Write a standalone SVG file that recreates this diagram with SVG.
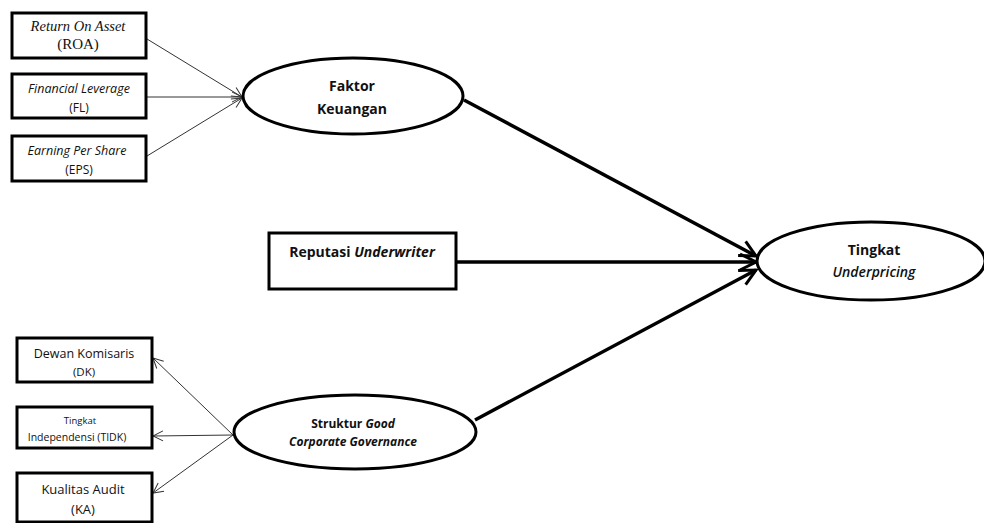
<svg xmlns="http://www.w3.org/2000/svg" width="984" height="523" viewBox="0 0 984 523">
<style>
.box{fill:#fff;stroke:#000;stroke-width:3}
.ell{fill:#fff;stroke:#000;stroke-width:3}
.thin{stroke:#333;stroke-width:1;fill:none}
.thick{stroke:#000;stroke-width:3.5;fill:none}
.s{font-family:"Open Sans","Liberation Sans",sans-serif;fill:#111;text-anchor:middle}
.t{font-family:"Liberation Serif",serif;fill:#111;text-anchor:middle}
.b{font-weight:bold}
.i{font-style:italic}
</style>
<defs>
<marker id="ah" viewBox="0 0 12 12" refX="11" refY="6" markerWidth="12" markerHeight="12" markerUnits="userSpaceOnUse" orient="auto">
<path d="M1,1 L11,6 L1,11" fill="none" stroke="#333" stroke-width="1"/>
</marker>
<marker id="ahb" viewBox="0 0 20 20" refX="18" refY="10" markerWidth="20" markerHeight="20" markerUnits="userSpaceOnUse" orient="auto">
<path d="M2,2 L18,10 L2,18" fill="none" stroke="#000" stroke-width="3"/>
</marker>
</defs>
<rect width="984" height="523" fill="#fff"/>
<g id="connectors">
<line class="thin" x1="147" y1="39" x2="242" y2="97" marker-end="url(#ah)"/>
<line class="thin" x1="147" y1="97" x2="242" y2="97" marker-end="url(#ah)"/>
<line class="thin" x1="147" y1="156" x2="242" y2="98" marker-end="url(#ah)"/>
<line class="thin" x1="233" y1="435" x2="153" y2="358" marker-end="url(#ah)"/>
<line class="thin" x1="233" y1="435" x2="153" y2="436" marker-end="url(#ah)"/>
<line class="thin" x1="233" y1="435" x2="153" y2="493" marker-end="url(#ah)"/>
<line class="thick" x1="464" y1="100" x2="756" y2="256" marker-end="url(#ahb)"/>
<line class="thick" x1="457" y1="262" x2="756" y2="262" marker-end="url(#ahb)"/>
<line class="thick" x1="475" y1="420" x2="756" y2="270" marker-end="url(#ahb)"/>
</g>
<g id="roa">
<rect class="box" x="12" y="13" width="134" height="45"/>
<text class="t i" x="78" y="31" font-size="14.5">Return On Asset</text>
<text class="t" x="78" y="49" font-size="15">(ROA)</text>
</g>
<g id="fl">
<rect class="box" x="12" y="74" width="134" height="44"/>
<text class="s i" x="79" y="93" font-size="12.5">Financial Leverage</text>
<text class="s" x="79" y="112" font-size="12">(FL)</text>
</g>
<g id="eps">
<rect class="box" x="12" y="136" width="134" height="45"/>
<text class="s i" x="77" y="155" font-size="12.5">Earning Per Share</text>
<text class="s" x="79" y="174" font-size="12">(EPS)</text>
</g>
<g id="faktor">
<ellipse class="ell" cx="353" cy="96" rx="110" ry="38"/>
<text class="s b" x="352" y="91" font-size="14">Faktor</text>
<text class="s b" x="352" y="114" font-size="14">Keuangan</text>
</g>
<g id="reputasi">
<rect class="box" x="269" y="233" width="187" height="56"/>
<text class="s b" x="362" y="257" font-size="14">Reputasi <tspan class="i">Underwriter</tspan></text>
</g>
<g id="tingkat">
<ellipse class="ell" cx="871" cy="261" rx="114" ry="39"/>
<text class="s b" x="874" y="255" font-size="14">Tingkat</text>
<text class="s i" x="874" y="277" font-size="14" font-weight="600">Underpricing</text>
</g>
<g id="sgcg">
<ellipse class="ell" cx="355" cy="432" rx="121" ry="37"/>
<text class="s b" x="353" y="428" font-size="12">Struktur <tspan class="i">Good</tspan></text>
<text class="s b i" x="353" y="446" font-size="12">Corporate Governance</text>
</g>
<g id="dk">
<rect class="box" x="17" y="338" width="135" height="44"/>
<text class="s" x="84" y="358" font-size="12.5">Dewan Komisaris</text>
<text class="s" x="84" y="376" font-size="11.5">(DK)</text>
</g>
<g id="tidk">
<rect class="box" x="17" y="407" width="135" height="41"/>
<text class="s" x="80" y="424" font-size="9.5">Tingkat</text>
<text class="s" x="77" y="441" font-size="10.5">Independensi  (TIDK)</text>
</g>
<g id="ka">
<rect class="box" x="17" y="473" width="135" height="49"/>
<text class="s" x="83" y="494" font-size="13">Kualitas Audit</text>
<text class="s" x="83" y="514" font-size="13">(KA)</text>
</g>
</svg>
